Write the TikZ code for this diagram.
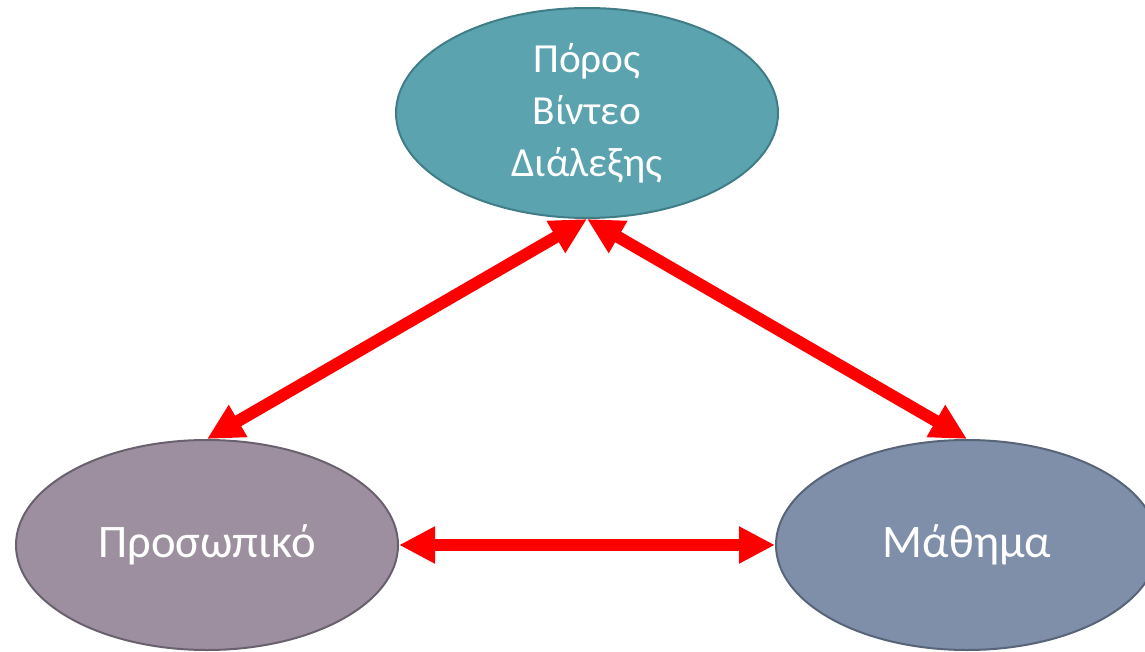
\documentclass[tikz,border=0pt]{standalone}
\usepackage{fontspec}
\setmainfont{Carlito}
\usepackage{xcolor}
\usepackage{tikz}
\definecolor{teal1} {RGB} {91, 163, 175}
\definecolor{teal6} {RGB} {65, 125, 135}
\definecolor{mauve1} {RGB} {158, 143, 160}
\definecolor{mauve6} {RGB} {105, 97, 110}
\definecolor{slate1} {RGB} {127, 143, 169}
\definecolor{slate6} {RGB} {88, 100, 120}
\usetikzlibrary{shapes.geometric}
\usetikzlibrary{arrows.meta}
\tikzstyle{blob}=[
  ellipse, minimum width=286.5pt, minimum height=157.5pt, inner sep=0pt,
  line width=1.5pt, text=white, align=center
]
\tikzstyle{link}=[
  draw=red, line width=9pt, {Triangle[length=27pt,width=26pt]}-{Triangle[length=27pt,width=26pt]}
]

\begin{document}
\begin{tikzpicture}[x=0.75pt, y=0.75pt]
      \useasboundingbox (0,0) rectangle (1145,651);
      \node[blob, fill=teal1, draw=teal6, font=\fontsize{31}{39}\selectfont] (res) at (587,538)
        {\raisebox{-6pt}{\parbox{200pt}{\centering Πόρος\\Βίντεο\\Διάλεξης}}};
      \node[blob, fill=mauve1, draw=mauve6, font=\fontsize{35}{40}\selectfont] (pers) at (207,106) {Προσωπικό};
      \node[blob, fill=slate1, draw=slate6, font=\fontsize{35}{40}\selectfont] (less) at (967,106) {Μάθημα};
      \draw[link] (pers.north) -- (res.south);
      \draw[link] (less.north) -- (res.south);
      \draw[link] (pers.east) -- (less.west);
    \end{tikzpicture}
\end{document}
